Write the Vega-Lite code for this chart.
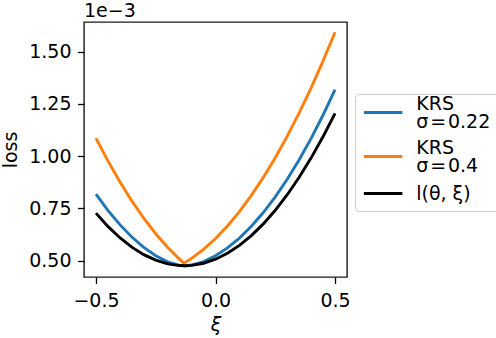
{
  "$schema": "https://vega.github.io/schema/vega-lite/v6.json",
  "width": 263,
  "height": 255,
  "autosize": {"type": "none"},
  "padding": {"left": 84, "top": 22, "right": 149, "bottom": 61},
  "background": "white",
  "title": {"text": "1e−3", "anchor": "start", "frame": "group", "fontSize": 19, "fontWeight": "normal", "font": "DejaVu Sans", "color": "black", "offset": 1},
  "data": {"values": [
    {"series": "KRS σ = 0.22", "xi": -0.5, "loss": 0.8185},
    {"series": "KRS σ = 0.22", "xi": -0.45, "loss": 0.7409},
    {"series": "KRS σ = 0.22", "xi": -0.4, "loss": 0.6725},
    {"series": "KRS σ = 0.22", "xi": -0.35, "loss": 0.6135},
    {"series": "KRS σ = 0.22", "xi": -0.3, "loss": 0.5639},
    {"series": "KRS σ = 0.22", "xi": -0.25, "loss": 0.5239},
    {"series": "KRS σ = 0.22", "xi": -0.2, "loss": 0.4943},
    {"series": "KRS σ = 0.22", "xi": -0.15, "loss": 0.4776},
    {"series": "KRS σ = 0.22", "xi": -0.125, "loss": 0.4761},
    {"series": "KRS σ = 0.22", "xi": -0.1, "loss": 0.4791},
    {"series": "KRS σ = 0.22", "xi": -0.05, "loss": 0.4957},
    {"series": "KRS σ = 0.22", "xi": 0.0, "loss": 0.5234},
    {"series": "KRS σ = 0.22", "xi": 0.05, "loss": 0.5611},
    {"series": "KRS σ = 0.22", "xi": 0.1, "loss": 0.6082},
    {"series": "KRS σ = 0.22", "xi": 0.15, "loss": 0.6646},
    {"series": "KRS σ = 0.22", "xi": 0.2, "loss": 0.7303},
    {"series": "KRS σ = 0.22", "xi": 0.25, "loss": 0.8053},
    {"series": "KRS σ = 0.22", "xi": 0.3, "loss": 0.8894},
    {"series": "KRS σ = 0.22", "xi": 0.35, "loss": 0.9827},
    {"series": "KRS σ = 0.22", "xi": 0.4, "loss": 1.0853},
    {"series": "KRS σ = 0.22", "xi": 0.45, "loss": 1.1971},
    {"series": "KRS σ = 0.22", "xi": 0.5, "loss": 1.318},
    {"series": "KRS σ = 0.4", "xi": -0.5, "loss": 1.0866},
    {"series": "KRS σ = 0.4", "xi": -0.45, "loss": 0.9777},
    {"series": "KRS σ = 0.4", "xi": -0.4, "loss": 0.8776},
    {"series": "KRS σ = 0.4", "xi": -0.35, "loss": 0.786},
    {"series": "KRS σ = 0.4", "xi": -0.3, "loss": 0.7031},
    {"series": "KRS σ = 0.4", "xi": -0.25, "loss": 0.6289},
    {"series": "KRS σ = 0.4", "xi": -0.2, "loss": 0.5633},
    {"series": "KRS σ = 0.4", "xi": -0.15, "loss": 0.5064},
    {"series": "KRS σ = 0.4", "xi": -0.132, "loss": 0.488},
    {"series": "KRS σ = 0.4", "xi": -0.1, "loss": 0.5111},
    {"series": "KRS σ = 0.4", "xi": -0.05, "loss": 0.5544},
    {"series": "KRS σ = 0.4", "xi": 0.0, "loss": 0.6061},
    {"series": "KRS σ = 0.4", "xi": 0.05, "loss": 0.6664},
    {"series": "KRS σ = 0.4", "xi": 0.1, "loss": 0.7351},
    {"series": "KRS σ = 0.4", "xi": 0.15, "loss": 0.8125},
    {"series": "KRS σ = 0.4", "xi": 0.2, "loss": 0.8984},
    {"series": "KRS σ = 0.4", "xi": 0.25, "loss": 0.9928},
    {"series": "KRS σ = 0.4", "xi": 0.3, "loss": 1.0957},
    {"series": "KRS σ = 0.4", "xi": 0.35, "loss": 1.2073},
    {"series": "KRS σ = 0.4", "xi": 0.4, "loss": 1.3273},
    {"series": "KRS σ = 0.4", "xi": 0.45, "loss": 1.4559},
    {"series": "KRS σ = 0.4", "xi": 0.5, "loss": 1.593},
    {"series": "l(θ, ξ)", "xi": -0.5, "loss": 0.7275},
    {"series": "l(θ, ξ)", "xi": -0.45, "loss": 0.6641},
    {"series": "l(θ, ξ)", "xi": -0.4, "loss": 0.6099},
    {"series": "l(θ, ξ)", "xi": -0.35, "loss": 0.5649},
    {"series": "l(θ, ξ)", "xi": -0.3, "loss": 0.5291},
    {"series": "l(θ, ξ)", "xi": -0.25, "loss": 0.5025},
    {"series": "l(θ, ξ)", "xi": -0.2, "loss": 0.485},
    {"series": "l(θ, ξ)", "xi": -0.15, "loss": 0.4767},
    {"series": "l(θ, ξ)", "xi": -0.125, "loss": 0.476},
    {"series": "l(θ, ξ)", "xi": -0.1, "loss": 0.4777},
    {"series": "l(θ, ξ)", "xi": -0.05, "loss": 0.4878},
    {"series": "l(θ, ξ)", "xi": 0.0, "loss": 0.507},
    {"series": "l(θ, ξ)", "xi": 0.05, "loss": 0.5355},
    {"series": "l(θ, ξ)", "xi": 0.1, "loss": 0.5732},
    {"series": "l(θ, ξ)", "xi": 0.15, "loss": 0.62},
    {"series": "l(θ, ξ)", "xi": 0.2, "loss": 0.676},
    {"series": "l(θ, ξ)", "xi": 0.25, "loss": 0.7413},
    {"series": "l(θ, ξ)", "xi": 0.3, "loss": 0.8157},
    {"series": "l(θ, ξ)", "xi": 0.35, "loss": 0.8992},
    {"series": "l(θ, ξ)", "xi": 0.4, "loss": 0.992},
    {"series": "l(θ, ξ)", "xi": 0.45, "loss": 1.094},
    {"series": "l(θ, ξ)", "xi": 0.5, "loss": 1.2051}
  ]},
  "mark": {"type": "line", "strokeWidth": 2.9, "clip": true},
  "encoding": {
    "x": {"field": "xi", "type": "quantitative",
      "scale": {"domain": [-0.55, 0.55], "nice": false, "zero": false},
      "axis": {"values": [-0.5, 0, 0.5], "format": ".1f", "title": "ξ", "titleFontStyle": "italic", "labelPadding": 8, "titlePadding": 5}},
    "y": {"field": "loss", "type": "quantitative",
      "scale": {"domain": [0.422, 1.642], "nice": false, "zero": false},
      "axis": {"values": [0.5, 0.75, 1.0, 1.25, 1.5], "format": ".2f", "title": "loss", "labelPadding": 6.5, "titlePadding": 8}},
    "color": {"field": "series", "type": "nominal",
      "scale": {"domain": ["KRS σ = 0.22", "KRS σ = 0.4", "l(θ, ξ)"], "range": ["#1f77b4", "#ff7f0e", "#000000"]},
      "legend": {"title": null, "orient": "none", "legendX": 271, "legendY": 72,
        "symbolType": "M-2,0H2", "symbolSize": 370.6, "symbolOffset": 9.625, "symbolStrokeWidth": 2.9,
        "labelFontSize": 19, "labelFont": "DejaVu Sans", "labelColor": "black", "labelOffset": 21.6,
        "labelExpr": "datum.value == 'KRS σ = 0.22' ? ['KRS', 'σ\u200a=\u200a0.22'] : datum.value == 'KRS σ = 0.4' ? ['KRS', 'σ\u200a=\u200a0.4'] : datum.label",
        "padding": 7, "strokeColor": "#cccccc", "fillColor": "white", "cornerRadius": 4, "rowPadding": 6,
        "encode": {"labels": {"update": {"lineHeight": {"value": 18.5}, "dy": {"signal": "datum.value == 'l(θ, ξ)' ? 0 : -9"}}}}}}
  },
  "config": {
    "font": "DejaVu Sans",
    "view": {"stroke": "#1a1a1a", "strokeWidth": 1.4},
    "axis": {"grid": false, "domain": false, "tickColor": "black", "tickSize": 6.5, "tickWidth": 1.3,
      "labelFontSize": 19, "labelColor": "black", "labelFont": "DejaVu Sans", "labelFlush": false,
      "titleFontSize": 19, "titleFontWeight": "normal", "titleColor": "black", "titleFont": "DejaVu Sans"}
  }
}
